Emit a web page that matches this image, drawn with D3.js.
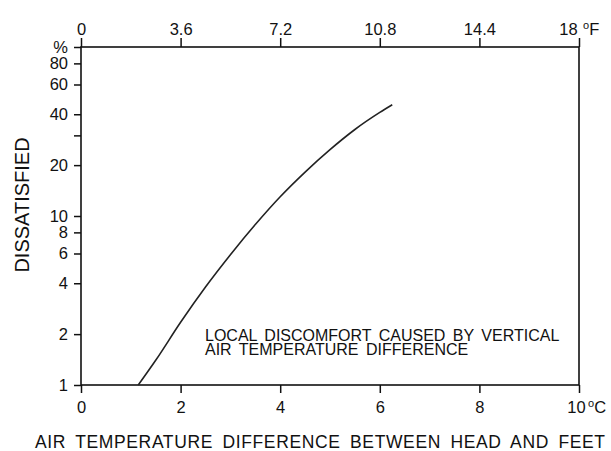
<!DOCTYPE html>
<html>
<head>
<meta charset="utf-8">
<script src="https://cdn.jsdelivr.net/npm/d3@7"></script>
<style>
  html, body { margin: 0; padding: 0; background: #fff; }
  svg text { font-family: "Liberation Sans", Arial, Helvetica, sans-serif; fill: #111; }
</style>
</head>
<body>
<svg id="chart" width="611" height="451"></svg>
<script>
// Temperature difference between head and feet (°C) and percent dissatisfied
const deltaC = [1.15, 1.5, 2.0, 2.5, 3.0, 3.5, 4.0, 4.5, 5.0, 5.5, 6.0, 6.25];
const dissatisfied = [1.0, 1.4, 2.35, 3.8, 5.9, 8.9, 13, 18.2, 24.7, 32.5, 41, 45.5];

// Axis ticks
const cTicks = [0, 2, 4, 6, 8, 10];
const fTicks = [0, 3.6, 7.2, 10.8, 14.4, 18];
const pctTicks = [100, 80, 60, 40, 30, 20, 10, 8, 6, 4, 2, 1];
const pctLabels = ["%", "80", "60", "40", "", "20", "10", "8", "6", "4", "2", "1"];

const note = ["LOCAL DISCOMFORT CAUSED BY VERTICAL", "AIR TEMPERATURE DIFFERENCE"];
const xTitle = "AIR TEMPERATURE DIFFERENCE BETWEEN HEAD AND FEET";
const yTitle = "DISSATISFIED";

const svg = d3.select("#chart");
const plotL = 81, plotR = 579, plotT = 47, plotB = 385;

const x = d3.scaleLinear().domain([0, 10]).range([plotL, plotR]);
const xF = d3.scaleLinear().domain([0, 18]).range([plotL, plotR]);
const y = d3.scaleLog().domain([1, 100]).range([plotB, plotT]);

const tickFont = 16.5;

function styleAxis(g) {
  g.select(".domain").remove();
  g.selectAll(".tick line").attr("stroke", "#111").attr("stroke-width", 1.5);
  g.selectAll(".tick text")
    .attr("font-size", tickFont)
    .attr("fill", "#111");
}

// Bottom axis (°C)
const gx = svg.append("g")
  .attr("transform", `translate(0,${plotB})`)
  .call(d3.axisBottom(x).tickValues(cTicks).tickSize(8).tickPadding(8)
    .tickFormat(d3.format("d")))
  .call(styleAxis);
gx.selectAll(".tick text").filter(d => d === 10).attr("dx", -3);

// Top axis (°F)
const gt = svg.append("g")
  .attr("transform", `translate(0,${plotT})`)
  .call(d3.axisTop(xF).tickValues(fTicks).tickSize(9).tickPadding(3)
    .tickFormat(d => d === 0 || d === 18 ? String(d) : d.toFixed(1)))
  .call(styleAxis);
gt.selectAll(".tick text").filter(d => d === 18).attr("dx", -11);

// Left axis (percent dissatisfied, log scale)
svg.append("g")
  .attr("transform", `translate(${plotL},0)`)
  .call(d3.axisLeft(y).tickValues(pctTicks).tickSize(7).tickPadding(6)
    .tickFormat((d, i) => pctLabels[i]))
  .call(styleAxis);

// Plot frame
svg.append("rect")
  .attr("x", plotL).attr("y", plotT)
  .attr("width", plotR - plotL).attr("height", plotB - plotT)
  .attr("fill", "none").attr("stroke", "#111").attr("stroke-width", 1.6);

// Unit labels with raised degree mark
function unit(xo, base, letter) {
  const t = svg.append("text").attr("x", xo).attr("y", base);
  t.append("tspan").attr("font-size", 11).attr("dy", -6).text("o");
  t.append("tspan").attr("font-size", tickFont).attr("dy", 6).text(letter);
}
unit(x(10) + 9, 413, "C");
unit(xF(18) + 4, 34.5, "F");

// Curve
const pts = deltaC.map((d, i) => [d, dissatisfied[i]]);
const line = d3.line()
  .x(d => x(d[0]))
  .y(d => y(d[1]))
  .curve(d3.curveMonotoneX);
svg.append("path")
  .datum(pts)
  .attr("d", line)
  .attr("fill", "none")
  .attr("stroke", "#222")
  .attr("stroke-width", 1.6);

// Annotation inside plot (two lines in one text block)
const noteText = svg.append("text")
  .attr("x", 205)
  .attr("y", 340.5)
  .attr("font-size", 16)
  .attr("word-spacing", "3px");
noteText.selectAll("tspan")
  .data(note)
  .join("tspan")
  .attr("x", 205)
  .attr("dy", (d, i) => i === 0 ? 0 : 14.5)
  .text(d => d);

// Axis titles
svg.append("text")
  .attr("x", 35).attr("y", 448)
  .attr("font-size", 17.5)
  .attr("word-spacing", "4px")
  .attr("textLength", 570)
  .attr("lengthAdjust", "spacing")
  .text(xTitle);

svg.append("text")
  .attr("transform", "translate(28.5,205) rotate(-90)")
  .attr("text-anchor", "middle")
  .attr("font-size", 20)
  .text(yTitle);
</script>
</body>
</html>
